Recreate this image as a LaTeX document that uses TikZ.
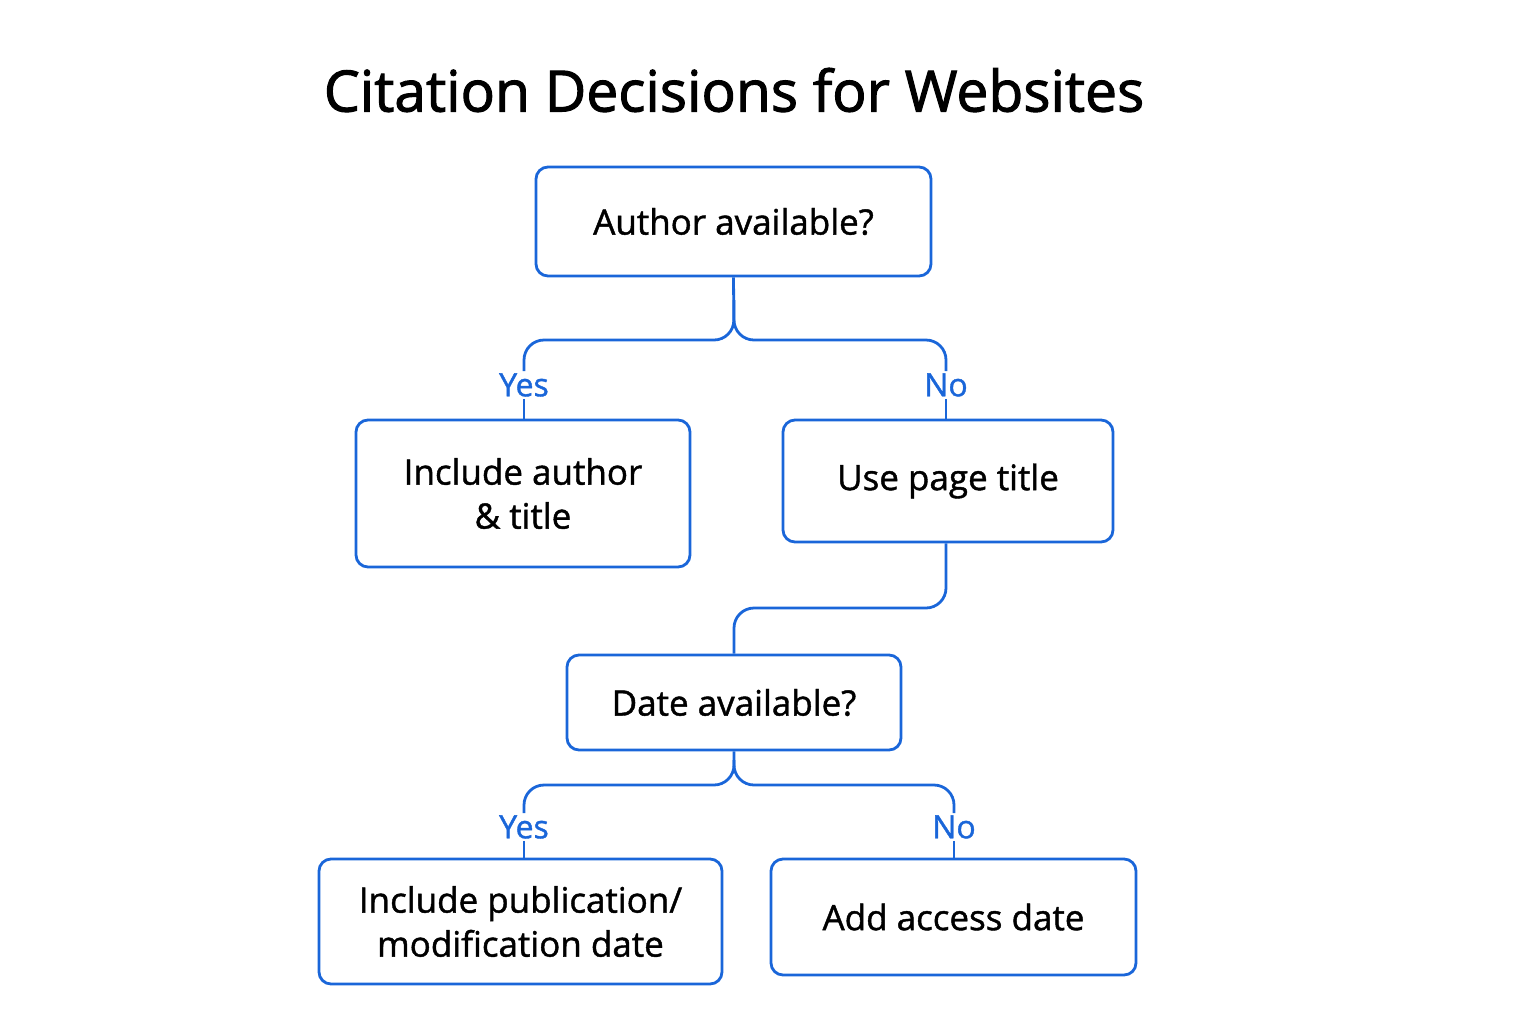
\documentclass[tikz,border=0pt]{standalone}
\usepackage{fontspec}
\setmainfont{Open Sans}
\newfontfamily\medfont[FakeBold=1.2]{Open Sans}
\newfontfamily\titfont[FakeBold=1.8]{Open Sans}
\begin{document}
\begin{tikzpicture}[x=0.5pt,y=-0.5pt,
  bx/.style={draw=myblue,line width=1.4pt,rounded corners=6pt,fill=white,align=center,font=\medfont\fontsize{17.5}{22}\selectfont,inner sep=0pt},
  ln/.style={draw=myblue,line width=1.4pt,rounded corners=10pt},
  lb/.style={text=myblue,font=\medfont\fontsize{16}{18}\selectfont,inner sep=1pt}]
\definecolor{myblue}{HTML}{1A66D9}
\useasboundingbox (0,0) rectangle (1536,1024);
\node[font=\titfont\fontsize{28.5}{32}\selectfont] (title) at (734,90) {Citation Decisions for Websites};
\node[bx,minimum width=197.5pt,minimum height=54.5pt] (a) at (733.5,221.5) {Author available?};
\node[bx,minimum width=167pt,minimum height=73.5pt] (b) at (523,493.5) {Include author\\\& title};
\node[bx,minimum width=165pt,minimum height=61pt] (c) at (948,481) {Use page title};
\node[bx,minimum width=167pt,minimum height=47.5pt] (d) at (734,702.5) {Date available?};
\node[bx,minimum width=201.5pt,minimum height=62.5pt] (e) at (520.5,921.5) {Include publication/\\modification date};
\node[bx,minimum width=182.5pt,minimum height=58pt] (f) at (953.5,917) {Add access date};
\node[lb] (y1) at (524,385) {Yes};
\node[lb] (n1) at (946,385) {No};
\node[lb] (y2) at (524,827) {Yes};
\node[lb] (n2) at (954,827) {No};
\draw[ln] (a.south) -- (734,340) -| (y1.north);
\draw[ln] (734,300) -- (734,340) -| (n1.north);
\draw[ln] (y1.south) -- (y1.south |- b.north);
\draw[ln] (n1.south) -- (n1.south |- c.north);
\draw[ln] (c.south -| n1) -- (946,608) -| (d.north);
\draw[ln] (d.south) -- (734,785) -| (y2.north);
\draw[ln] (734,760) -- (734,785) -| (n2.north);
\draw[ln] (y2.south) -- (y2.south |- e.north);
\draw[ln] (n2.south) -- (n2.south |- f.north);
\end{tikzpicture}
\end{document}
